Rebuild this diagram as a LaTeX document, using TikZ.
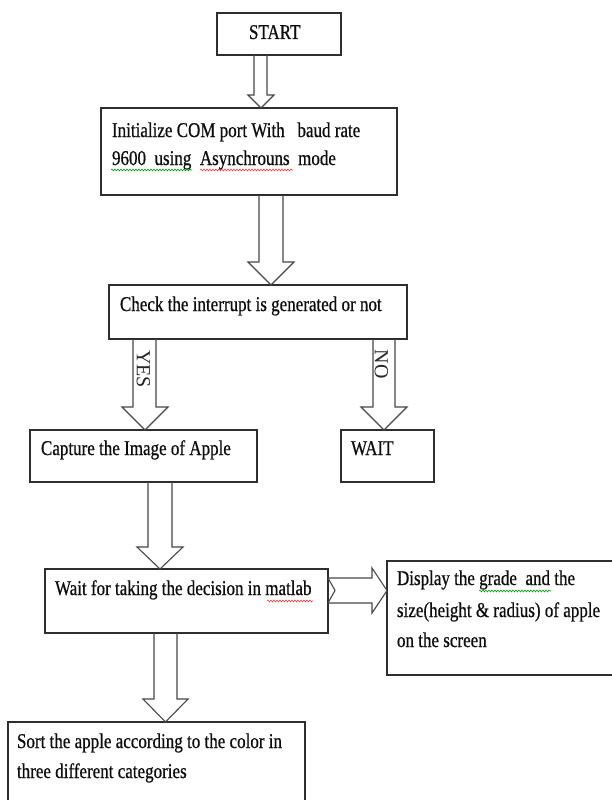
\documentclass[tikz,border=0pt]{standalone}
\usepackage{fontspec}
\setmainfont{Liberation Serif}[FakeStretch=0.81,FakeBold=0.6]
\newfontfamily\plainserif{Liberation Serif}
\usetikzlibrary{calc,decorations.pathmorphing}
\tikzset{
  box/.style={draw=black!82, line width=1.4pt, inner sep=0pt, outer sep=0pt, fill=white},
  txt/.style={anchor=base west, inner sep=0pt, outer sep=0pt, text=black!95, font=\fontsize{21}{25}\selectfont},
  vtxt/.style={inner sep=0pt, rotate=-90, text=black!85, font=\plainserif\fontsize{20}{24}\selectfont},
  barrow/.style={draw=black!72, line width=1.1pt, line join=miter},
  squig/.style={line width=0.6pt, decorate, decoration={snake, amplitude=0.9pt, segment length=3pt}},
}
% #1 source, #2 target, #3 shaft left, #4 shaft right, #5 head left, #6 head right, #7 tip x, #8 head length
\newcommand{\vblock}[8]{%
  \draw[barrow] (#3,0 |- #1.south) -- ($(#3,0 |- #2.north)+(0,-#8)$)
    -- ($(#5,0 |- #2.north)+(0,-#8)$) -- (#7,0 |- #2.north)
    -- ($(#6,0 |- #2.north)+(0,-#8)$) -- ($(#4,0 |- #2.north)+(0,-#8)$)
    -- (#4,0 |- #1.south);}
\begin{document}
\begin{tikzpicture}[x={(1pt,0)}, y={(0,-1pt)}]
\useasboundingbox (0,0) rectangle (612,800);
\clip (0,0) rectangle (612,800);
\fill[white] (0,0) rectangle (612,800);

% boxes
\node[box, minimum width=124pt, minimum height=42pt] (start) at (279,34) {};
\node[box, minimum width=296pt, minimum height=87pt] (init) at (249,151.5) {};
\node[box, minimum width=298pt, minimum height=54pt] (check) at (258,312) {};
\node[box, minimum width=227pt, minimum height=52pt] (capture) at (143.5,456) {};
\node[box, minimum width=93pt, minimum height=52pt] (waitst) at (387.5,456) {};
\node[box, minimum width=283pt, minimum height=64pt] (decide) at (186.5,601) {};
\node[box, minimum width=233pt, minimum height=114pt] (display) at (503.5,618) {};
\node[box, minimum width=297pt, minimum height=88pt] (sort) at (156.5,766) {};

% texts
\node[txt] (tstart) at (249,39) {START};
\node[txt] (tinit1) at (112,137) {Initialize COM port With\ \ \ baud rate};
\node[txt] (tinit2) at (112,165) {9600\ \ using\ \ Asynchrouns\ \ mode};
\node[txt] (tcheck) at (120,311) {Check the interrupt is generated or not};
\node[txt] (tcapture) at (41,455) {Capture the Image of Apple};
\node[txt] (twait) at (351,455) {WAIT};
\node[txt] (tdecide) at (55,595) {Wait for taking the decision in matlab};
\node[txt] (tdisp1) at (397,585) {Display the grade\ \ and the};
\node[txt] (tdisp2) at (397,617) {size(height \& radius) of apple};
\node[txt] (tdisp3) at (397,647) {on the screen};
\node[txt] (tsort1) at (17,748) {Sort the apple according to the color in};
\node[txt] (tsort2) at (17,778) {three different categories};

% spell-check marks
\draw[squig, green!60!black] (111,170) -- (192,170);
\draw[squig, red!80] (200,170) -- (293,170);
\draw[squig, red!80] (267,601) -- (313,601);
\draw[squig, green!60!black] (479,591) -- (551,591);

% block arrows
\vblock{start}{init}{254}{267}{248}{274}{261}{13}
\vblock{init}{check}{259}{283}{248}{294}{271}{23}
\vblock{check}{capture}{133}{156}{122}{168}{145}{23}
\vblock{check}{waitst}{373}{395}{361}{407}{384}{23}
\vblock{capture}{decide}{148}{172}{137}{183}{160}{22}
\vblock{decide}{sort}{154}{177}{143}{188}{165.5}{23}
\draw[barrow] (decide.east |- 0,578) -- (372,578) -- (372,568)
  -- (display.west |- 0,590.5) -- (372,613) -- (372,603)
  -- (decide.east |- 0,603) -- (335,590.5) -- cycle;

% arrow labels
\node[vtxt] (yes) at (143.5,369) {YES};
\node[vtxt] (no) at (381.5,364) {NO};
\end{tikzpicture}
\end{document}
